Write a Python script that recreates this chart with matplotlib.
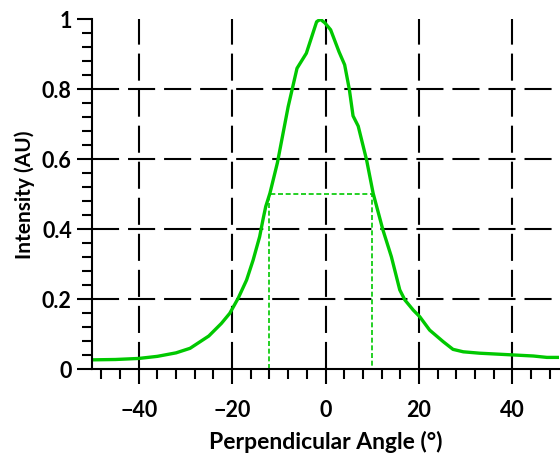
import matplotlib
matplotlib.use("Agg")
import matplotlib.pyplot as plt
from matplotlib.ticker import MultipleLocator, FixedLocator, FixedFormatter

plt.rcParams['font.family'] = ['Lato', 'DejaVu Sans']
plt.rcParams['font.weight'] = 'bold'

# Data
angle = [-50, -45, -40, -36, -32, -29, -25, -22.3, -20.5, -18.7, -16.9, -15.5, -14.1,
         -13.4, -12.8, -11.9, -10.3, -8.0, -6.1, -4.1, -1.9, -1.1, -0.15, 1.1, 2.9,
         4.1, 5.1, 5.9, 7.0, 8.8, 10.2, 12.3, 14.1, 15.9, 17.0, 18.8, 20.2, 22.3,
         25.2, 27.3, 29.5, 33, 40.2, 44.5, 47.4, 50]
intensity = [0.027, 0.028, 0.031, 0.037, 0.047, 0.060, 0.095, 0.131, 0.160, 0.203,
             0.255, 0.312, 0.379, 0.427, 0.465, 0.503, 0.590, 0.750, 0.860, 0.903,
             0.993, 1.000, 0.990, 0.970, 0.907, 0.870, 0.800, 0.724, 0.695, 0.598,
             0.503, 0.398, 0.322, 0.227, 0.198, 0.169, 0.150, 0.112, 0.079, 0.057,
             0.050, 0.046, 0.041, 0.038, 0.034, 0.034]

fwhm_x = [-12, -12, 10, 10]
fwhm_y = [0, 0.5, 0.5, 0]

xticks = [-40, -20, 0, 20, 40]
xtick_labels = ['\u221240', '\u221220', '0', '20', '40']
yticks = [0, 0.2, 0.4, 0.6, 0.8, 1.0]
ytick_labels = ['0', '0.2', '0.4', '0.6', '0.8', '1']

green = '#00c800'

fig = plt.figure(figsize=(5.6, 4.58), dpi=100)
ax = fig.add_axes([92 / 560, (458 - 369.3) / 458, 467 / 560, 350 / 458])

ax.plot(angle, intensity, color=green, lw=2.4, zorder=4, solid_joinstyle='round')
ax.plot(fwhm_x, fwhm_y, color=green, lw=1.2, linestyle=(0, (3.0, 1.6)), zorder=3)

ax.set_xlim(-50, 50)
ax.set_ylim(0, 1)

ax.xaxis.set_major_locator(FixedLocator(xticks))
ax.xaxis.set_major_formatter(FixedFormatter(xtick_labels))
ax.xaxis.set_minor_locator(MultipleLocator(4))
ax.yaxis.set_major_locator(FixedLocator(yticks))
ax.yaxis.set_major_formatter(FixedFormatter(ytick_labels))
ax.yaxis.set_minor_locator(MultipleLocator(0.04))

for s in ['top', 'right']:
    ax.spines[s].set_visible(False)
for s in ['left', 'bottom']:
    ax.spines[s].set_linewidth(1.5)
    ax.spines[s].set_zorder(5)

ax.tick_params(which='major', direction='out', length=11, width=1.5, color='black',
               labelsize=15.5)
ax.tick_params(which='minor', direction='out', length=7, width=1.5, color='black')
ax.tick_params(axis='x', which='major', pad=11)
ax.tick_params(axis='y', which='major', pad=3.5)

ax.grid(True, which='major', color='black', lw=1.5, linestyle=(0, (13, 4.3)), zorder=1)
ax.set_axisbelow(True)
for t, v in zip(ax.yaxis.get_major_ticks(), yticks):
    if v in (0, 1.0):
        t.gridline.set_visible(False)

for lab in ax.get_xticklabels() + ax.get_yticklabels():
    lab.set_fontweight('bold')

ax.set_xlabel('Perpendicular Angle (°)', fontsize=16.5, fontweight='bold', labelpad=7)
ax.set_ylabel('Intensity (AU)', fontsize=15, fontweight='bold', labelpad=5)

fig.savefig('out.png', dpi=100)
